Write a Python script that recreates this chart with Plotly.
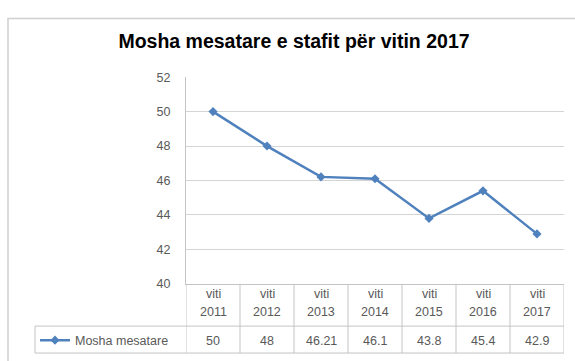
import plotly.graph_objects as go

# Average staff age per year
years = ["2011", "2012", "2013", "2014", "2015", "2016", "2017"]
prefix = "viti"
values = [50, 48, 46.21, 46.1, 43.8, 45.4, 42.9]
value_labels = ["50", "48", "46.21", "46.1", "43.8", "45.4", "42.9"]
series_name = "Mosha mesatare"
title_text = "Mosha mesatare e stafit për vitin 2017"
y_ticks = [40, 42, 44, 46, 48, 50, 52]

categories = [f"{prefix} {y}" for y in years]

W, H = 575, 361
# pixel layout of the plot area and data table
plot_left, plot_right = 186, 564
plot_top, plot_bottom = 73, 288
row_split, table_bottom = 332, 360
legend_cell_left = 35

TEXT = "#595959"
GRID = "#d4d4d4"
TABLE_LINE = "#c4c4c4"
LINE = "#4F81BD"
FONT = "Liberation Sans"


def px_x(p):
    return p / W


def px_y(p):
    return 1 - p / H


fig = go.Figure()
fig.add_trace(go.Scatter(
    x=categories, y=values, name=series_name, mode="lines+markers",
    line=dict(color=LINE, width=2.5),
    marker=dict(symbol="diamond", size=7, color=LINE),
    showlegend=True,
))

shapes = []
# outer chart frame
shapes.append(dict(type="rect", xref="paper", yref="paper",
                   x0=px_x(8), x1=1.1, y0=-0.1, y1=px_y(12),
                   line=dict(color="#d0d0d0", width=1.5), layer="below"))
# table column separators
for i in range(len(categories) + 1):
    shapes.append(dict(type="line", xref="x", yref="paper",
                       x0=i - 0.5, x1=i - 0.5,
                       y0=px_y(table_bottom), y1=px_y(plot_bottom),
                       line=dict(color=TABLE_LINE, width=1)))
# horizontal table rules
for yy in (row_split, table_bottom):
    shapes.append(dict(type="line", xref="paper", yref="paper",
                       x0=px_x(legend_cell_left), x1=px_x(plot_right),
                       y0=px_y(yy), y1=px_y(yy),
                       line=dict(color=TABLE_LINE, width=1)))
# legend cell left edge
shapes.append(dict(type="line", xref="paper", yref="paper",
                   x0=px_x(legend_cell_left), x1=px_x(legend_cell_left),
                   y0=px_y(table_bottom), y1=px_y(row_split),
                   line=dict(color=TABLE_LINE, width=1)))

annotations = []
for cat, yr, lab in zip(categories, years, value_labels):
    annotations.append(dict(x=cat, xref="x", y=px_y(299), yref="paper",
                            text=prefix, showarrow=False, yanchor="middle",
                            font=dict(family=FONT, size=12.5, color=TEXT)))
    annotations.append(dict(x=cat, xref="x", y=px_y(317), yref="paper",
                            text=yr, showarrow=False, yanchor="middle",
                            font=dict(family=FONT, size=12.5, color=TEXT)))
    annotations.append(dict(x=cat, xref="x", y=px_y(347), yref="paper",
                            text=lab, showarrow=False, yanchor="middle",
                            font=dict(family=FONT, size=12.5, color=TEXT)))

fig.update_layout(
    width=W, height=H, autosize=False,
    margin=dict(l=0, r=0, t=0, b=0),
    paper_bgcolor="white", plot_bgcolor="white",
    title=dict(text=title_text, x=px_x(294), xanchor="center",
               y=px_y(41), yanchor="middle",
               font=dict(family=FONT, size=19.5, color="#000000",
                         weight="bold")),
    xaxis=dict(domain=[px_x(plot_left), px_x(plot_right)],
               type="category", range=[-0.5, len(categories) - 0.5],
               showticklabels=False, showgrid=False, zeroline=False,
               showline=True, linecolor=TABLE_LINE, linewidth=1),
    yaxis=dict(domain=[px_y(plot_bottom), px_y(plot_top)],
               range=[40, 52], tickvals=y_ticks,
               showgrid=True, gridcolor=GRID, gridwidth=1,
               zeroline=False, showline=True, linecolor=TABLE_LINE,
               linewidth=1, ticks="", ticklabelstandoff=12,
               tickfont=dict(family=FONT, size=12.5, color=TEXT)),
    legend=dict(x=px_x(legend_cell_left), xanchor="left",
                y=px_y(347), yanchor="middle",
                bgcolor="rgba(0,0,0,0)", borderwidth=0,
                font=dict(family=FONT, size=12.5, color=TEXT),
                itemwidth=30),
    shapes=shapes,
    annotations=annotations,
)

fig.write_html("out.html")
